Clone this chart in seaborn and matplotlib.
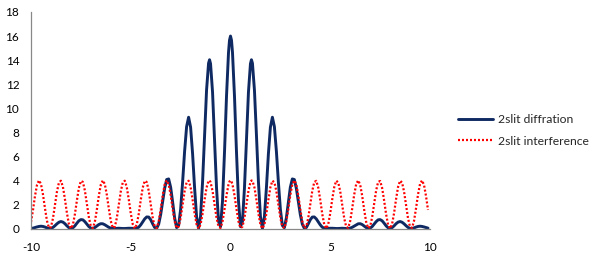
import numpy as np
import pandas as pd
import matplotlib
matplotlib.use("Agg")
import matplotlib.pyplot as plt
import seaborn as sns

# x grid: -10.0 ... 9.9 step 0.1 (200 samples)
x_values = np.round(np.linspace(-10.0, 9.9, 200), 1)

diffraction = [
    0.01, 0.03, 0.08, 0.13, 0.17, 0.19, 0.17, 0.12, 0.05, 0.00,
    0.01, 0.09, 0.23, 0.39, 0.52, 0.58, 0.53, 0.40, 0.22, 0.07,
    0.00, 0.06, 0.22, 0.44, 0.64, 0.74, 0.72, 0.57, 0.36, 0.16,
    0.03, 0.00, 0.08, 0.21, 0.33, 0.40, 0.39, 0.31, 0.20, 0.10,
    0.03, 0.00, 0.00, 0.01, 0.02, 0.01, 0.00, 0.00, 0.01, 0.02,
    0.02, 0.01, 0.00, 0.02, 0.11, 0.30, 0.55, 0.80, 0.96, 0.95,
    0.73, 0.39, 0.08, 0.02, 0.36, 1.16, 2.25, 3.34, 4.07, 4.12,
    3.43, 2.19, 0.88, 0.07, 0.25, 1.59, 3.87, 6.43, 8.47, 9.25,
    8.42, 6.21, 3.38, 0.97, 0.00, 1.01, 3.88, 7.80, 11.51, 13.74,
    13.70, 11.34, 7.45, 3.37, 0.59, 0.15, 2.29, 6.37, 11.00, 14.63,
    16.00, 14.63, 11.00, 6.37, 2.29, 0.15, 0.59, 3.37, 7.45, 11.34,
    13.70, 13.74, 11.51, 7.80, 3.88, 1.01, 0.00, 0.97, 3.38, 6.21,
    8.42, 9.25, 8.47, 6.43, 3.87, 1.59, 0.25, 0.07, 0.88, 2.19,
    3.43, 4.12, 4.07, 3.34, 2.25, 1.16, 0.36, 0.02, 0.08, 0.39,
    0.73, 0.95, 0.96, 0.80, 0.55, 0.30, 0.11, 0.02, 0.00, 0.01,
    0.02, 0.02, 0.01, 0.00, 0.00, 0.01, 0.02, 0.01, 0.00, 0.00,
    0.03, 0.10, 0.20, 0.31, 0.39, 0.40, 0.33, 0.21, 0.08, 0.00,
    0.03, 0.16, 0.36, 0.57, 0.72, 0.74, 0.64, 0.44, 0.22, 0.06,
    0.00, 0.07, 0.22, 0.40, 0.53, 0.58, 0.52, 0.39, 0.23, 0.09,
    0.01, 0.00, 0.05, 0.12, 0.17, 0.19, 0.17, 0.13, 0.08, 0.03,
]

interference = [
    0.53, 1.54, 2.70, 3.62, 4.00, 3.70, 2.83, 1.68, 0.64, 0.05,
    0.13, 0.83, 1.93, 3.06, 3.82, 3.97, 3.46, 2.45, 1.29, 0.37,
    0.00, 0.30, 1.18, 2.33, 3.37, 3.95, 3.87, 3.16, 2.06, 0.94,
    0.17, 0.03, 0.55, 1.56, 2.72, 3.64, 4.00, 3.69, 2.81, 1.66,
    0.62, 0.05, 0.14, 0.85, 1.96, 3.08, 3.83, 3.97, 3.44, 2.43,
    1.27, 0.36, 0.00, 0.32, 1.20, 2.36, 3.39, 3.96, 3.86, 3.14,
    2.03, 0.91, 0.16, 0.03, 0.57, 1.58, 2.74, 3.65, 4.00, 3.68,
    2.79, 1.63, 0.60, 0.04, 0.15, 0.87, 1.98, 3.10, 3.84, 3.97,
    3.43, 2.40, 1.25, 0.34, 0.00, 0.33, 1.23, 2.38, 3.41, 3.96,
    3.85, 3.12, 2.01, 0.89, 0.15, 0.04, 0.58, 1.61, 2.76, 3.66,
    4.00, 3.66, 2.76, 1.61, 0.58, 0.04, 0.15, 0.89, 2.01, 3.12,
    3.85, 3.96, 3.41, 2.38, 1.23, 0.33, 0.00, 0.34, 1.25, 2.40,
    3.43, 3.97, 3.84, 3.10, 1.98, 0.87, 0.15, 0.04, 0.60, 1.63,
    2.79, 3.68, 4.00, 3.65, 2.74, 1.58, 0.57, 0.03, 0.16, 0.91,
    2.03, 3.14, 3.86, 3.96, 3.39, 2.36, 1.20, 0.32, 0.00, 0.36,
    1.27, 2.43, 3.44, 3.97, 3.83, 3.08, 1.96, 0.85, 0.14, 0.05,
    0.62, 1.66, 2.81, 3.69, 4.00, 3.64, 2.72, 1.56, 0.55, 0.03,
    0.17, 0.94, 2.06, 3.16, 3.87, 3.95, 3.37, 2.33, 1.18, 0.30,
    0.00, 0.37, 1.29, 2.45, 3.46, 3.97, 3.82, 3.06, 1.93, 0.83,
    0.13, 0.05, 0.64, 1.68, 2.83, 3.70, 4.00, 3.62, 2.70, 1.54,
]

# extra samples read near the tall central peaks
extra_x = [-1.05, -0.05, 0.05, 1.05]
extra_diffraction = [14.03, 15.65, 15.65, 14.03]
extra_interference = [3.99, 3.91, 3.91, 3.99]

series_names = ["2slit diffration", "2slit interference"]
x_ticks = [-10, -5, 0, 5, 10]
y_ticks = [0, 2, 4, 6, 8, 10, 12, 14, 16, 18]

df = pd.DataFrame({
    "x": list(x_values) + extra_x,
    "diff": diffraction + extra_diffraction,
    "interf": interference + extra_interference,
}).sort_values("x").reset_index(drop=True)

sns.set_theme(style="white")
plt.rcParams["font.family"] = ["Lato", "DejaVu Sans"]

fig = plt.figure(figsize=(6.02, 2.61), dpi=100)
ax = fig.add_axes([31 / 602, 1 - 228.5 / 261, 399 / 602, 216.5 / 261])

sns.lineplot(data=df, x="x", y="diff", ax=ax, color="#0f2a62", linewidth=2.1,
             label=series_names[0], solid_joinstyle="round", solid_capstyle="round",
             sort=False)
sns.lineplot(data=df, x="x", y="interf", ax=ax, color="#ff0000", linewidth=1.6,
             linestyle=(0, (0.9, 0.9)), label=series_names[1], dash_capstyle="butt",
             sort=False)

ax.set_xlim(-10, 10)
ax.set_ylim(0, 18)
ax.set_xticks(x_ticks)
ax.set_xticklabels([str(v) for v in x_ticks])
ax.set_yticks(y_ticks)
ax.set_yticklabels([str(v) for v in y_ticks])
ax.set_xlabel("")
ax.set_ylabel("")
ax.tick_params(axis="both", length=0, labelsize=8.5, colors="#000000")
ax.tick_params(axis="y", pad=8.5)
ax.tick_params(axis="x", pad=9.5)

for side in ["top", "right"]:
    ax.spines[side].set_visible(False)
for side in ["left", "bottom"]:
    ax.spines[side].set_color("#888888")
    ax.spines[side].set_linewidth(0.9)
ax.grid(False)

if ax.legend_:
    ax.legend_.remove()
handles, labels = ax.get_legend_handles_labels()
fig.legend(handles, labels, loc="center left", bbox_to_anchor=(458 / 602, 1 - 130.5 / 261),
           bbox_transform=fig.transFigure, frameon=False, fontsize=8.7,
           handlelength=2.9, handletextpad=0.45, labelspacing=0.85,
           borderpad=0, borderaxespad=0)

fig.savefig("out.png", dpi=100)
